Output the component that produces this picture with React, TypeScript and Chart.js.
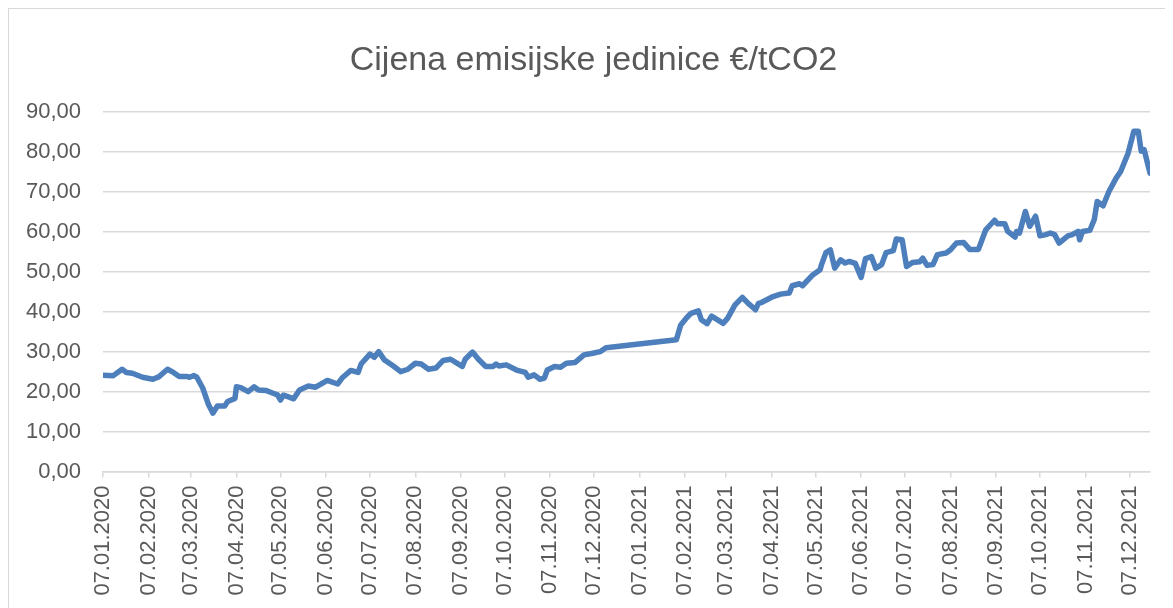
import React, { useEffect, useRef } from "react";
import { Chart, registerables } from "chart.js";

Chart.register(...registerables);

const TITLE = "Cijena emisijske jedinice €/tCO2";

const tickLabels = [
  "07.01.2020", "07.02.2020", "07.03.2020", "07.04.2020", "07.05.2020", "07.06.2020",
  "07.07.2020", "07.08.2020", "07.09.2020", "07.10.2020", "07.11.2020", "07.12.2020",
  "07.01.2021", "07.02.2021", "07.03.2021", "07.04.2021", "07.05.2021", "07.06.2021",
  "07.07.2021", "07.08.2021", "07.09.2021", "07.10.2021", "07.11.2021", "07.12.2021",
];

const dates = [
  "2020-01-07", "2020-01-14", "2020-01-20", "2020-01-23", "2020-01-27", "2020-02-03",
  "2020-02-10", "2020-02-14", "2020-02-20", "2020-02-24", "2020-02-28", "2020-03-04",
  "2020-03-06", "2020-03-09", "2020-03-11", "2020-03-15", "2020-03-19", "2020-03-22",
  "2020-03-25", "2020-03-30", "2020-04-01", "2020-04-06", "2020-04-07", "2020-04-10",
  "2020-04-15", "2020-04-19", "2020-04-22", "2020-04-27", "2020-05-02", "2020-05-05",
  "2020-05-07", "2020-05-09", "2020-05-13", "2020-05-16", "2020-05-20", "2020-05-26",
  "2020-05-31", "2020-06-08", "2020-06-15", "2020-06-18", "2020-06-24", "2020-06-29",
  "2020-07-01", "2020-07-07", "2020-07-10", "2020-07-13", "2020-07-17", "2020-07-23",
  "2020-07-28", "2020-08-02", "2020-08-07", "2020-08-11", "2020-08-16", "2020-08-21",
  "2020-08-26", "2020-08-31", "2020-09-08", "2020-09-10", "2020-09-15", "2020-09-19",
  "2020-09-24", "2020-09-29", "2020-10-01", "2020-10-03", "2020-10-08", "2020-10-15",
  "2020-10-21", "2020-10-23", "2020-10-27", "2020-10-31", "2020-11-03", "2020-11-05",
  "2020-11-10", "2020-11-14", "2020-11-18", "2020-11-24", "2020-11-30", "2020-12-06",
  "2020-12-11", "2020-12-15",
  "2021-02-01", "2021-02-04", "2021-02-08", "2021-02-11", "2021-02-16", "2021-02-18",
  "2021-02-22", "2021-02-25", "2021-03-05", "2021-03-08", "2021-03-13", "2021-03-18",
  "2021-03-22", "2021-03-27", "2021-03-29", "2021-03-31", "2021-04-08", "2021-04-13",
  "2021-04-19", "2021-04-21", "2021-04-26", "2021-04-28", "2021-05-05", "2021-05-10",
  "2021-05-11", "2021-05-14", "2021-05-17", "2021-05-20", "2021-05-24", "2021-05-27",
  "2021-05-30", "2021-06-03", "2021-06-07", "2021-06-10", "2021-06-14", "2021-06-17",
  "2021-06-21", "2021-06-24", "2021-06-29", "2021-07-01", "2021-07-05", "2021-07-08",
  "2021-07-12", "2021-07-17", "2021-07-19", "2021-07-22", "2021-07-26", "2021-07-29",
  "2021-08-04", "2021-08-07", "2021-08-11", "2021-08-16", "2021-08-20", "2021-08-26",
  "2021-08-31", "2021-09-06", "2021-09-08", "2021-09-13", "2021-09-15", "2021-09-20",
  "2021-09-21", "2021-09-23", "2021-09-27", "2021-09-30", "2021-10-04", "2021-10-07",
  "2021-10-11", "2021-10-14", "2021-10-17", "2021-10-20", "2021-10-26", "2021-10-29",
  "2021-11-02", "2021-11-03", "2021-11-05", "2021-11-10", "2021-11-13", "2021-11-15",
  "2021-11-19", "2021-11-23", "2021-11-28", "2021-12-01", "2021-12-06", "2021-12-10",
  "2021-12-13", "2021-12-15", "2021-12-17", "2021-12-21",
];

const prices = [
  24.1, 24.0, 25.6, 24.8, 24.6, 23.6,
  23.1, 23.7, 25.6, 24.8, 23.8, 23.8,
  23.6, 24.0, 23.6, 20.9, 16.7, 14.6,
  16.4, 16.4, 17.5, 18.3, 21.2, 21.0,
  20.0, 21.2, 20.4, 20.3, 19.6, 19.2,
  17.9, 19.1, 18.6, 18.2, 20.4, 21.4,
  21.1, 22.8, 21.9, 23.4, 25.3, 24.8,
  26.9, 29.4, 28.6, 30.0, 27.9, 26.4,
  25.0, 25.6, 27.1, 26.9, 25.6, 25.9,
  27.8, 28.1, 26.3, 28.1, 29.9, 28.1,
  26.3, 26.3, 26.9, 26.4, 26.7, 25.4,
  24.8, 23.6, 24.2, 23.1, 23.4, 25.4,
  26.3, 26.1, 27.1, 27.3, 29.2, 29.6,
  30.0, 31.0,
  33.0, 36.7, 38.5, 39.6, 40.2, 38.0,
  37.0, 38.9, 37.1, 38.4, 41.7, 43.6,
  42.1, 40.5, 42.1, 42.3, 43.8, 44.4,
  44.7, 46.5, 47.0, 46.5, 49.2, 50.5,
  51.8, 54.8, 55.5, 50.9, 53.0, 52.2,
  52.6, 52.1, 48.6, 53.3, 53.8, 50.9,
  51.8, 54.8, 55.3, 58.2, 58.0, 51.3,
  52.3, 52.5, 53.4, 51.6, 51.8, 54.3,
  54.7, 55.5, 57.2, 57.3, 55.6, 55.6,
  60.5, 62.9, 62.0, 62.0, 60.1, 58.7,
  60.1, 59.7, 65.1, 61.4, 63.9, 59.0,
  59.3, 59.7, 59.3, 57.2, 59.0, 59.3,
  60.1, 58.0, 60.1, 60.4, 63.1, 67.6,
  66.5, 70.1, 73.5, 75.1, 79.6, 85.2,
  85.2, 80.2, 80.6, 74.7,
];

const yMin = 0;
const yMax = 90;
const yStep = 10;

const DAY = 86400000;
const BASE = Date.UTC(2020, 0, 7);
const isoToDay = (s: string) => {
  const [y, m, d] = s.split("-").map(Number);
  return Math.round((Date.UTC(y, m - 1, d) - BASE) / DAY);
};
const labelToDay = (s: string) => {
  const [d, m, y] = s.split(".").map(Number);
  return Math.round((Date.UTC(y, m - 1, d) - BASE) / DAY);
};

const GRAY_TEXT = "#595959";
const GRID = "#d9d9d9";
const LINE = "#4e7fbd";
const FONT = "'Liberation Sans', Arial, sans-serif";

const titleShift = {
  id: "titleShift",
  afterLayout(chart: any) {
    const t = chart.titleBlock;
    if (t) {
      t.left += 14;
      t.right += 14;
    }
  },
};

export default function App() {
  const ref = useRef<HTMLCanvasElement | null>(null);

  useEffect(() => {
    if (!ref.current) return;
    const points = dates.map((d, i) => ({ x: isoToDay(d), y: prices[i] }));
    const tickDays = tickLabels.map(labelToDay);
    const labelByDay: Record<number, string> = {};
    tickDays.forEach((d, i) => (labelByDay[d] = tickLabels[i]));
    const xMax = points[points.length - 1].x;

    const chart = new Chart(ref.current, {
      type: "line",
      data: {
        datasets: [
          {
            data: points,
            borderColor: LINE,
            borderWidth: 5.5,
            pointRadius: 0,
            tension: 0,
            borderJoinStyle: "round",
            borderCapStyle: "round",
            fill: false,
          },
        ],
      },
      plugins: [titleShift],
      options: {
        animation: false,
        responsive: false,
        devicePixelRatio: 1,
        layout: { padding: { left: 0, right: 20, top: 0, bottom: 0 } },
        plugins: {
          legend: { display: false },
          tooltip: { enabled: false },
          title: {
            display: true,
            text: TITLE,
            color: GRAY_TEXT,
            font: { family: FONT, size: 34, weight: "normal" },
            padding: { top: 31, bottom: 31.2 },
          },
        },
        scales: {
          x: {
            type: "linear",
            min: 0,
            max: xMax,
            afterBuildTicks: (scale: any) => {
              scale.ticks = tickDays.map((v) => ({ value: v }));
            },
            afterFit: (scale: any) => {
              scale.height = 136.5;
            },
            grid: {
              drawOnChartArea: false,
              drawTicks: true,
              tickLength: 6,
              color: GRID,
              lineWidth: 1.5,
            },
            border: { display: true, color: GRID, width: 1.5 },
            ticks: {
              autoSkip: false,
              maxRotation: 90,
              minRotation: 90,
              padding: 8,
              color: GRAY_TEXT,
              font: { family: FONT, size: 22 },
              callback: (v: any) => labelByDay[Number(v)] ?? "",
            },
          },
          y: {
            min: yMin,
            max: yMax,
            afterFit: (scale: any) => {
              scale.width = 94;
            },
            grid: {
              drawTicks: false,
              color: GRID,
              lineWidth: 1.5,
            },
            border: { display: false },
            ticks: {
              stepSize: yStep,
              padding: 22,
              color: GRAY_TEXT,
              font: { family: FONT, size: 22 },
              callback: (v: any) => Number(v).toFixed(2).replace(".", ","),
            },
          },
        },
      },
    } as any);
    return () => chart.destroy();
  }, []);

  return (
    <div
      style={{
        position: "relative",
        width: 1161,
        height: 599,
        border: "1px solid #d9d9d9",
        borderBottom: "none",
        background: "#fff",
      }}
    >
      <canvas ref={ref} width={1161} height={599} style={{ display: "block" }} />
    </div>
  );
}
